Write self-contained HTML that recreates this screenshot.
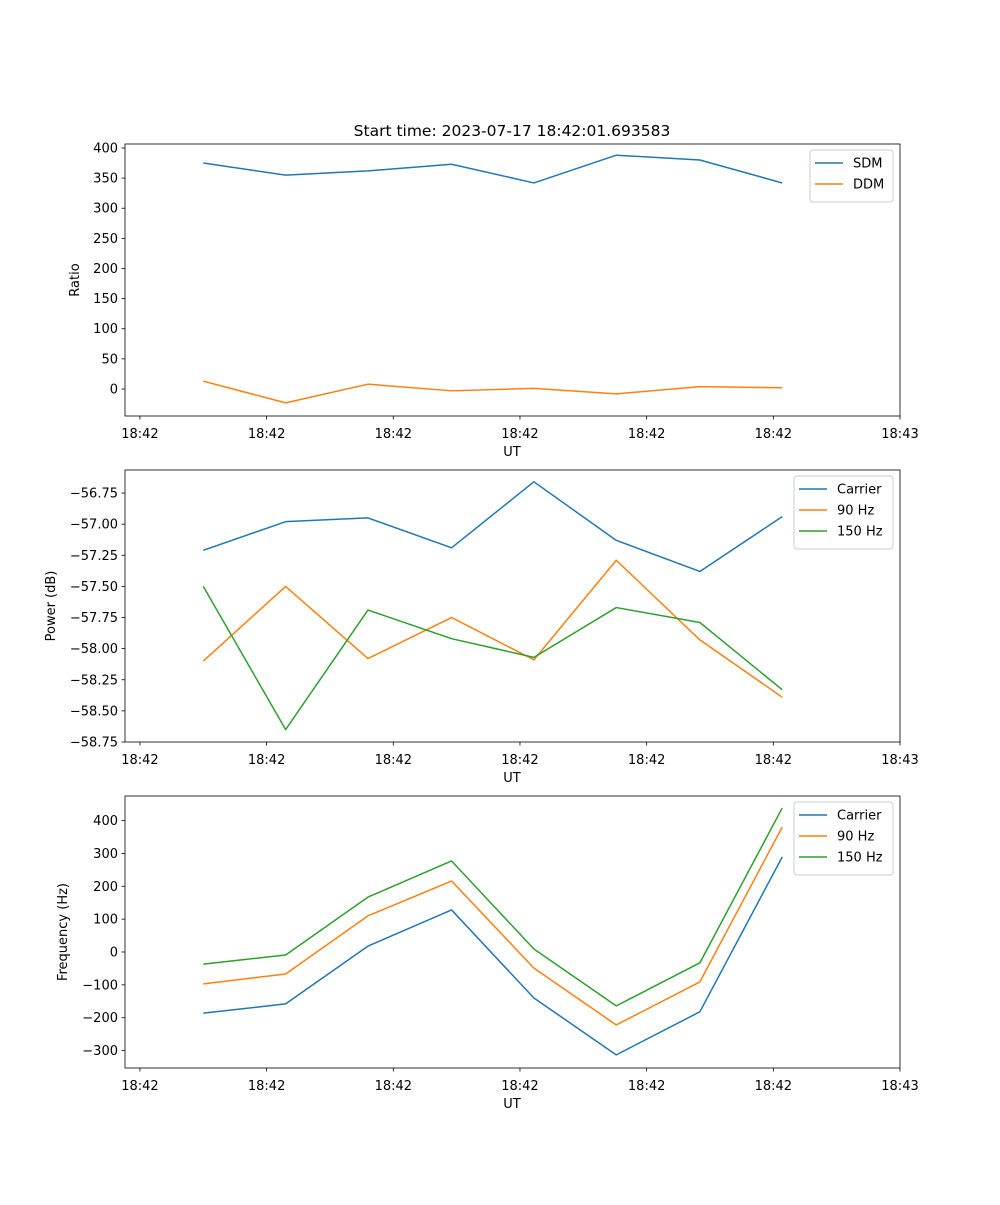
<!DOCTYPE html>
<html><head><meta charset="utf-8"><style>
body{margin:0;background:#fff}
svg text{font-family:"DejaVu Sans","Liberation Sans",sans-serif;font-size:13px;fill:#000}
</style></head><body>
<svg id="fig" width="1000" height="1200" viewBox="0 0 1000 1200" xmlns="http://www.w3.org/2000/svg">
<text x="512" y="136" text-anchor="middle" style="font-size:15.5px">Start time: 2023-07-17 18:42:01.693583</text>
</svg>
<script>
// shared x data (seconds after 18:42:00)
const times = [5.0, 11.5, 18.0, 24.6, 31.1, 37.6, 44.2, 50.7];
const xTickValues = [0, 10, 20, 30, 40, 50, 60];
const xTickLabels = ["18:42","18:42","18:42","18:42","18:42","18:42","18:43"];
// panel 1
const ratioSDM = [375, 355, 362, 373, 342, 388, 380, 342];
const ratioDDM = [13, -23, 8, -3, 1, -8, 4, 2];
const ratioTicks = [0, 50, 100, 150, 200, 250, 300, 350, 400];
// panel 2
const powerCarrier = [-57.21, -56.98, -56.95, -57.19, -56.66, -57.13, -57.38, -56.94];
const power90 = [-58.10, -57.50, -58.08, -57.75, -58.09, -57.29, -57.93, -58.39];
const power150 = [-57.50, -58.65, -57.69, -57.92, -58.07, -57.67, -57.79, -58.33];
const powerTicks = [-58.75, -58.5, -58.25, -58.0, -57.75, -57.5, -57.25, -57.0, -56.75];
// panel 3
const freqCarrier = [-186, -158, 18, 128, -140, -313, -182, 289];
const freq90 = [-97, -67, 110, 216, -49, -222, -91, 380];
const freq150 = [-37, -9, 167, 277, 9, -164, -33, 438];
const freqTicks = [-300, -200, -100, 0, 100, 200, 300, 400];

const NS = "http://www.w3.org/2000/svg";
const svg = document.getElementById('fig');
const L = 125, R = 900;
const xMin = -1.18, xMax = 60;
const xs = v => L + (v - xMin) / (xMax - xMin) * (R - L);
function mk(tag, attrs, parent) { const e = document.createElementNS(NS, tag); for (const k in attrs) e.setAttribute(k, attrs[k]); (parent || svg).appendChild(e); return e; }

function panel(key, top, bot, yMin, yMax, ticks, fmt, ylabel, ylabelX, series, legendW, legendX) {
  const g = mk('g', {});
  
  
  const ys = v => bot - (v - yMin) / (yMax - yMin) * (bot - top);
  series.forEach(s => {
    const p = mk('polyline', { points: s.vals.map((v, i) => xs(times[i]) + ',' + ys(v)).join(' '), fill: 'none', stroke: s.color, 'stroke-width': 1.5, 'stroke-linejoin': 'round' }, g);
    
    
  });
  const frame = mk('rect', { x: L, y: top, width: R - L, height: bot - top, fill: 'none', stroke: '#000', 'stroke-width': 0.8 }, g);
  
  
  xTickValues.forEach((v, i) => {
    const x = xs(v);
    mk('line', { x1: x, y1: bot, x2: x, y2: bot + 3.5, stroke: '#000', 'stroke-width': 0.8 }, g);
    const t = mk('text', { x: x, y: bot + 22, 'text-anchor': 'middle' }, g);
    t.textContent = xTickLabels[i];
    
    
  });
  ticks.forEach(v => {
    const y = ys(v);
    mk('line', { x1: L - 3.5, y1: y, x2: L, y2: y, stroke: '#000', 'stroke-width': 0.8 }, g);
    const t = mk('text', { x: L - 7, y: y + 4.5, 'text-anchor': 'end' }, g);
    t.textContent = fmt(v);
    
    
  });
  const xl = mk('text', { x: 512, y: bot + 40, 'text-anchor': 'middle' }, g);
  xl.textContent = 'UT';
  
  
  const cy = (top + bot) / 2;
  const yl = mk('text', { x: ylabelX, y: cy, 'text-anchor': 'middle', transform: 'rotate(-90 ' + ylabelX + ' ' + cy + ')' }, g);
  yl.textContent = ylabel;
  
  
  const lg = mk('g', {}, g);
  
  
  mk('rect', { x: legendX, y: top + 6, width: legendW, height: 10 + series.length * 21, rx: 3, fill: '#fff', stroke: '#ccc', 'stroke-width': 1 }, lg);
  series.forEach((s, i) => {
    const y = top + 19 + i * 21;
    mk('line', { x1: legendX + 5, y1: y, x2: legendX + 33, y2: y, stroke: s.color, 'stroke-width': 1.5 }, lg);
    const t = mk('text', { x: legendX + 43, y: y + 4.5 }, lg);
    t.textContent = s.name;
    
    
  });
}
const C1 = '#1f77b4', C2 = '#ff7f0e', C3 = '#2ca02c';
panel('ratio', 144, 416, -44.8, 406.6, ratioTicks, v => String(v), 'Ratio', 79,
  [{ id: 'sdm', name: 'SDM', vals: ratioSDM, color: C1 }, { id: 'ddm', name: 'DDM', vals: ratioDDM, color: C2 }], 83, 810);
panel('power', 470, 742, -58.75, -56.565, powerTicks, v => '\u2212' + Math.abs(v).toFixed(2), 'Power (dB)', 55,
  [{ id: 'carrier', name: 'Carrier', vals: powerCarrier, color: C1 }, { id: '90hz', name: '90 Hz', vals: power90, color: C2 }, { id: '150hz', name: '150 Hz', vals: power150, color: C3 }], 99, 794);
panel('freq', 796, 1068, -353, 474.7, freqTicks, v => v < 0 ? '\u2212' + Math.abs(v) : String(v), 'Frequency (Hz)', 67,
  [{ id: 'carrier', name: 'Carrier', vals: freqCarrier, color: C1 }, { id: '90hz', name: '90 Hz', vals: freq90, color: C2 }, { id: '150hz', name: '150 Hz', vals: freq150, color: C3 }], 99, 794);
</script>
</body></html>
